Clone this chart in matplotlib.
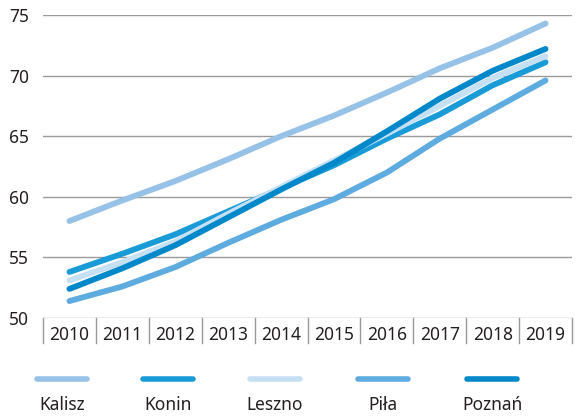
import matplotlib
matplotlib.use("Agg")
import matplotlib.pyplot as plt
from matplotlib.lines import Line2D
import matplotlib.transforms as mtransforms

plt.rcParams['font.family'] = ['Noto Sans', 'DejaVu Sans']

years = ["2010", "2011", "2012", "2013", "2014", "2015", "2016", "2017", "2018", "2019"]
kalisz = [58.0, 59.7, 61.3, 63.1, 65.0, 66.7, 68.6, 70.6, 72.3, 74.3]
konin = [53.8, 55.3, 56.9, 58.8, 60.7, 62.6, 64.8, 66.8, 69.2, 71.1]
leszno = [53.1, 54.6, 56.3, 58.6, 60.8, 63.0, 65.2, 67.5, 69.8, 71.6]
pila = [51.4, 52.6, 54.2, 56.2, 58.1, 59.8, 62.0, 64.8, 67.2, 69.6]
poznan = [52.4, 54.1, 56.0, 58.3, 60.6, 62.8, 65.4, 68.1, 70.4, 72.2]
series_names = ["Kalisz", "Konin", "Leszno", "Piła", "Poznań"]
series_values = [kalisz, konin, leszno, pila, poznan]
colors = ["#96c2e8", "#199bd8", "#c6e0f3", "#5dabdf", "#0088ca"]
yticks = [50, 55, 60, 65, 70, 75]

W, H = 579, 417
fig = plt.figure(figsize=(W / 100, H / 100), dpi=100)
ax = fig.add_axes([43 / W, 1 - 318 / H, (572 - 43) / W, (318 - 15) / H])

x = list(range(len(years)))
order = [0, 3, 1, 2, 4]
for i in order:
    ax.plot(x, series_values[i], color=colors[i], lw=4.2, solid_capstyle='round',
            solid_joinstyle='round', zorder=3)

ax.set_xlim(-0.5, len(years) - 0.5)
ax.set_ylim(50, 75)
ax.set_yticks(yticks)
for v in yticks:
    ax.axhline(v, color="#9a9a9a", lw=1.0, zorder=1)
for s in ax.spines.values():
    s.set_visible(False)
ax.tick_params(axis='y', length=0, pad=10, labelsize=12.5, labelcolor="#231f20")
ax.set_xticks(x)
ax.set_xticklabels(years)
ax.tick_params(axis='x', length=0, pad=6, labelsize=12.5, labelcolor="#231f20")

trans = mtransforms.blended_transform_factory(ax.transData, ax.transAxes)
cell_depth = 25 / (318 - 15)
for b in [i - 0.5 for i in range(len(years) + 1)]:
    ax.plot([b, b], [0, -cell_depth], transform=trans, color="#9a9a9a", lw=1.0,
            clip_on=False)

centers = [62, 168, 275, 383, 492]
for name, c, cx in zip(series_names, colors, centers):
    fig.add_artist(Line2D([(cx - 25) / W, (cx + 25) / W], [1 - 379 / H, 1 - 379 / H],
                          color=c, lw=4.0, solid_capstyle='round'))
    fig.text(cx / W, 1 - 405 / H, name, ha='center', va='center', fontsize=12.5,
             color="#231f20")

fig.savefig("out.png", dpi=100)
